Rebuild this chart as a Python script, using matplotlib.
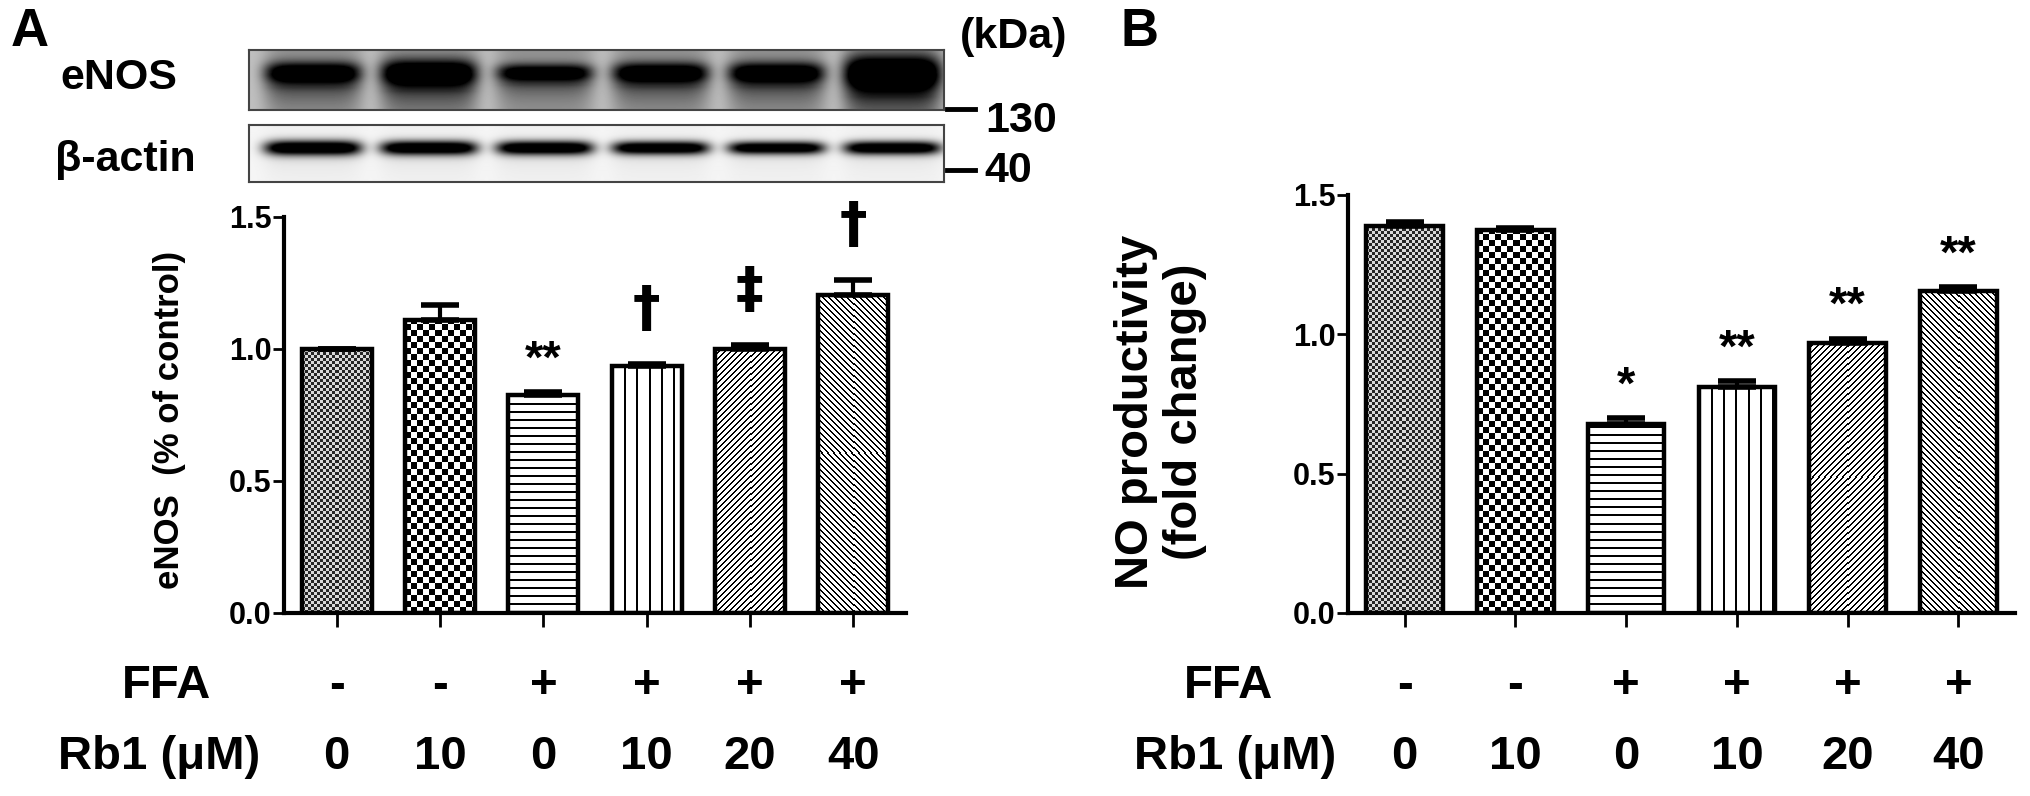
import numpy as np
import matplotlib
matplotlib.use("Agg")
import matplotlib.pyplot as plt

plt.rcParams['font.family'] = ['Liberation Sans', 'DejaVu Sans']
plt.rcParams['font.weight'] = 'bold'

# ---- data ----
ffa = ['-', '-', '+', '+', '+', '+']
rb1 = ['0', '10', '0', '10', '20', '40']

enos_mean = [1.00, 1.11, 0.825, 0.935, 1.00, 1.205]
enos_sem = [0.0, 0.055, 0.012, 0.009, 0.014, 0.057]
enos_marks = ['', '', '**', '\u2020', '\u2021', '\u2020']

no_mean = [1.39, 1.375, 0.68, 0.81, 0.97, 1.155]
no_sem = [0.012, 0.006, 0.02, 0.022, 0.015, 0.015]
no_marks = ['', '', '*', '**', '**', '**']

# relative band strength of the blots (lanes 1-6)
enos_band = [0.86, 0.95, 0.78, 0.84, 0.85, 1.08]
actin_band = [0.95, 0.93, 0.92, 0.90, 0.88, 0.90]

patterns = ['fine', 'checker', 'hline', 'vline', 'diag', 'anti']

W, H = 2031, 796
fig = plt.figure(figsize=(W / 100, H / 100), dpi=100)


def rect(x0, y0, x1, y1):
    # pixel box (top-left origin) -> figure fraction rect
    return [x0 / W, 1 - y1 / H, (x1 - x0) / W, (y1 - y0) / H]


def ftext(x, y, s, size, **kw):
    fig.text(x / W, 1 - y / H, s, fontsize=size, fontweight='bold',
             ha=kw.pop('ha', 'center'), va=kw.pop('va', 'center'), **kw)


def texture(kind, h, w):
    yy, xx = np.mgrid[0:h, 0:w]
    if kind == 'fine':
        return np.where((xx // 3 + yy // 3) % 2, 0.85, 0.15)
    if kind == 'checker':
        return ((xx // 6 + yy // 6) % 2).astype(float)
    if kind == 'hline':
        return (yy % 8 < 2).astype(float)
    if kind == 'vline':
        return (xx % 12 < 2).astype(float)
    if kind == 'diag':
        return ((xx - yy) % 6 < 2).astype(float)
    return ((xx + yy) % 6 < 2).astype(float)


def bar_panel(ax, mean, sem, marks, width):
    x = np.arange(len(mean))
    ax.set_xlim(-0.51, 5.51)
    ax.set_ylim(0, 1.5)
    bars = ax.bar(x, mean, width, color='white', edgecolor='none', zorder=1)
    for b, kind in zip(bars, patterns):
        x0, y0 = b.get_x(), b.get_y()
        x1, y1 = x0 + b.get_width(), y0 + b.get_height()
        (p0, q0), (p1, q1) = ax.transData.transform([(x0, y0), (x1, y1)])
        tex = texture(kind, max(int(round(q1 - q0)), 1), max(int(round(p1 - p0)), 1))
        im = ax.imshow(tex, extent=(x0, x1, y0, y1), origin='lower', cmap='gray_r',
                       vmin=0, vmax=1, interpolation='nearest', aspect='auto', zorder=2)
        im.set_clip_path(b)
    ax.bar(x, mean, width, facecolor='none', edgecolor='black', linewidth=3.2, zorder=3)
    ax.errorbar(x, mean, yerr=[np.zeros(len(sem)), sem], fmt='none', ecolor='black',
                elinewidth=3, capsize=14, capthick=4, zorder=4)
    for i, m in enumerate(marks):
        if not m:
            continue
        if '*' in m:
            ax.annotate(m, (x[i], mean[i] + sem[i]), xytext=(0, 14), textcoords='offset points',
                        ha='center', va='baseline', fontsize=34, fontweight='bold')
        else:
            ax.annotate(m, (x[i], mean[i] + sem[i]), xytext=(0, 28), textcoords='offset points',
                        ha='center', va='baseline', fontsize=40, fontweight='bold',
                        family=['DejaVu Sans'])
    ax.set_xlim(-0.51, 5.51)
    ax.set_ylim(0, 1.5)
    ax.set_yticks([0, 0.5, 1.0, 1.5])
    ax.set_yticklabels(['0.0', '0.5', '1.0', '1.5'])
    ax.set_xticks(x)
    ax.set_xticklabels([])
    for s in ['top', 'right']:
        ax.spines[s].set_visible(False)
    for s in ['left', 'bottom']:
        ax.spines[s].set_linewidth(3)
    ax.tick_params(axis='y', direction='out', length=8, width=2, pad=1, labelsize=22)
    ax.tick_params(axis='x', direction='out', length=10, width=2)


def row_labels(ax, x_ffa, x_rb1):
    tr = ax.get_xaxis_transform()
    box = ax.get_position()
    for y_px, vals in [(686, ffa), (757, rb1)]:
        ya = (1 - y_px / H - box.y0) / box.height
        for i, v in enumerate(vals):
            ax.text(i, ya, v, transform=tr, ha='center', va='center',
                    fontsize=34, fontweight='bold', clip_on=False)
    ftext(x_ffa, 686, 'FFA', 34)
    ftext(x_rb1, 757, 'Rb1 (\u03bcM)', 34)


# ---- panel A bars ----
axA = fig.add_axes(rect(284, 217, 906, 613))
bar_panel(axA, enos_mean, enos_sem, enos_marks, 0.68)
axA.set_ylabel('eNOS  (% of control)', fontsize=25, fontweight='bold')
axA.yaxis.set_label_coords((186 - 284) / 622, (613 - 420) / 396)
row_labels(axA, 167, 159)

# ---- panel B bars ----
axB = fig.add_axes(rect(1348, 195, 2015, 613))
bar_panel(axB, no_mean, no_sem, no_marks, 0.69)
axB.set_ylabel('NO productivity\n(fold change)', fontsize=34, fontweight='bold',
               linespacing=1.15)
axB.yaxis.set_label_coords((1207 - 1348) / 667, (613 - 412) / 418)
row_labels(axB, 1229, 1235)


# ---- western blots ----
def blot(levels, h, w, core, spread, back, lane_bg, gain, tail):
    yy = np.arange(h)[:, None]
    xx = np.arange(w)[None, :]
    lane_w = w / len(levels)
    img = np.full((h, w), back)
    for i, lv in enumerate(levels):
        cx = (i + 0.55) * lane_w
        sp = spread * lv ** 2
        across = np.exp(-((xx - cx) / (0.42 * lane_w)) ** 6)
        band = gain * lv * np.exp(-((yy - core) / sp) ** 2)
        below = tail * lv * np.clip((yy - core) / sp, 0, 1.5) * np.exp(-((yy - core) / (2.5 * sp)) ** 2)
        img = img + across * (lane_bg + band + below)
    return np.clip(img, 0, 1)


axE = fig.add_axes(rect(249, 50, 944, 110))
axE.imshow(blot(enos_band, 60, 695, 22, 14, 0.25, 0.18, 1.0, 0.3), cmap='gray_r',
           vmin=0, vmax=1, aspect='auto', interpolation='bilinear')
axC = fig.add_axes(rect(249, 125, 944, 182))
axC.imshow(blot(actin_band, 57, 695, 23, 8, 0.04, 0.02, 1.4, 0.05), cmap='gray_r',
           vmin=0, vmax=1, aspect='auto', interpolation='bilinear')
for a in (axE, axC):
    a.set_xticks([])
    a.set_yticks([])
    for s in a.spines.values():
        s.set_linewidth(1.5)
        s.set_edgecolor('#444444')

# marker dashes and labels
for y in (109, 170):
    fig.add_artist(plt.Line2D([947 / W, 975 / W], [1 - y / H, 1 - y / H], color='black', lw=3.5))
ftext(119, 78, 'eNOS', 31)
ftext(125, 160, '\u03b2-actin', 31)
ftext(1014, 37, '(kDa)', 31)
ftext(1021, 121, '130', 31)
ftext(1008, 171, '40', 31)
ftext(30, 32, 'A', 38)
ftext(1140, 32, 'B', 38)

fig.savefig('out.png', dpi=100, facecolor='white')
